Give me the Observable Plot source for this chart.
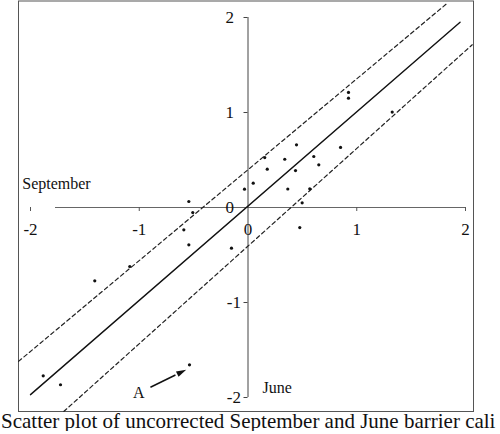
<!DOCTYPE html>
<html>
<head>
<meta charset="utf-8">
<script src="https://cdn.jsdelivr.net/npm/d3@7"></script>
<script src="https://cdn.jsdelivr.net/npm/@observablehq/plot@0.6"></script>
<style>
  html, body { margin: 0; padding: 0; background: white; overflow: hidden; }
  #chart svg { display: block; }
  #caption {
    font-family: "Liberation Serif", "Times New Roman", serif;
    font-size: 21px; line-height: 20px; margin-top: -3px;
    white-space: nowrap; width: 498px;
    padding-left: 1px; color: #111;
  }
</style>
</head>
<body>
<div id="chart"></div>
<div id="caption">Scatter plot of uncorrected September and June barrier cali</div>
<script>
// Scatter points: June (x) vs September (y)
const juneX = [-0.544, -0.508, -0.590, -0.544, -0.152, -0.032, 0.048, 0.446, 0.851, 0.154,
               0.338, 0.605, 0.651, 0.177, 0.437, 0.366, 0.568, 0.498, 0.476, 0.924,
               0.924, 1.326, -1.087, -1.409, -1.883, -1.724, -0.538];
const septY = [0.063, -0.053, -0.235, -0.393, -0.428, 0.193, 0.256, 0.660, 0.632, 0.526,
               0.508, 0.537, 0.449, 0.403, 0.389, 0.195, 0.197, 0.049, -0.211, 1.211,
               1.151, 1.005, -0.621, -0.772, -1.772, -1.866, -1.656];

// Fitted line and dashed bounds (end points)
const fitLine   = [[-2.0, -1.97], [1.95, 1.95]];
const upperBand = [[-2.11, -1.62], [1.832, 2.15]];
const lowerBand = [[-1.694, -2.147], [2.062, 1.713]];

// Axes
const xTickLabels = [-2, -1, 0, 1, 2];
const xTickMarks = [-2, -1, 1, 2];
const yTickLabels = [2, 1, 0, -1, -2];
const yTickMarks = [2, 1, -1, -2];
const xAxisExtent = [-1.77, 2];
const yAxisExtent = [-2, 2];

// Annotations
const annoText = ["September", "June", "A"];
const annoX = [-2.076, 0.133, -1.004];
const annoY = [0.253, -1.895, -1.953];
const annoAnchor = ["start", "start", "middle"];
const arrowFrom = [-0.897, -1.892];
const arrowTo = [-0.568, -1.708];

const points = juneX.map((x, i) => ({x, y: septY[i]}));
const annos = annoText.map((t, i) => ({t, x: annoX[i], y: annoY[i], a: annoAnchor[i]}));

const W = 500, H = 414, ML = 30, MR = 35, MT = 17, MB = 17;
const kx = (W - ML - MR) / 4, ky = (H - MT - MB) / 4;
const adx = (arrowTo[0] - arrowFrom[0]) * kx, ady = -(arrowTo[1] - arrowFrom[1]) * ky;
const alen = Math.hypot(adx, ady);
const headRot = Math.atan2(adx, -ady) * 180 / Math.PI;
const headFrac = 6 / alen;
const head = [{
  x: arrowTo[0] - headFrac * (arrowTo[0] - arrowFrom[0]),
  y: arrowTo[1] - headFrac * (arrowTo[1] - arrowFrom[1])
}];
const shaftEnd = [{
  x1: arrowFrom[0], y1: arrowFrom[1],
  x2: arrowTo[0] - 2 * headFrac * (arrowTo[0] - arrowFrom[0]),
  y2: arrowTo[1] - 2 * headFrac * (arrowTo[1] - arrowFrom[1])
}];
const arrowHead = {
  draw(context, size) {
    const s = Math.sqrt(size);
    context.moveTo(0, -0.6 * s);
    context.lineTo(-0.3 * s, 0.4 * s);
    context.lineTo(0.3 * s, 0.4 * s);
    context.closePath();
  }
};

const toRows = (seg) => seg.map(([x, y]) => ({x, y}));

const chart = Plot.plot({
  width: W, height: H,
  marginLeft: ML, marginRight: MR, marginTop: MT, marginBottom: MB,
  x: {domain: [-2, 2], axis: null},
  y: {domain: [-2, 2], axis: null},
  style: {fontFamily: "'Liberation Serif', 'Times New Roman', serif", background: "white", color: "#111", overflow: "visible"},
  marks: [
    Plot.frame({stroke: "#555", strokeWidth: 1, insetLeft: -12, insetRight: -8, insetTop: -16.5, insetBottom: -14}),
    // x axis
    Plot.ruleY([0], {x1: xAxisExtent[0], x2: xAxisExtent[1], stroke: "#666", strokeWidth: 1}),
    Plot.ruleX(xTickMarks, {x: d => d, y1: () => 0, y2: () => 0, insetBottom: -4, stroke: "#555"}),
    Plot.text(xTickLabels, {x: d => d, y: () => 0, dy: 22, text: d => String(d), fontSize: 17, fill: "#111"}),
    // y axis
    Plot.ruleX([0], {y1: yAxisExtent[0], y2: yAxisExtent[1], stroke: "#444", strokeWidth: 1}),
    Plot.ruleY(yTickMarks, {y: d => d, x1: () => 0, x2: () => 0, insetLeft: -4, stroke: "#444"}),
    Plot.text(yTickLabels.filter(d => d >= 0), {x: () => 0, y: d => d, dx: -14, text: d => String(d), textAnchor: "end", fontSize: 17, fill: "#111"}),
    Plot.text(yTickLabels.filter(d => d < 0), {x: () => 0, y: d => d, dx: -7, text: d => String(d), textAnchor: "end", fontSize: 17, fill: "#111"}),
    // lines
    Plot.line(toRows(fitLine), {x: "x", y: "y", stroke: "#111", strokeWidth: 1.4}),
    Plot.line(toRows(upperBand), {x: "x", y: "y", stroke: "#222", strokeWidth: 1.2, strokeDasharray: "4,3"}),
    Plot.line(toRows(lowerBand), {x: "x", y: "y", stroke: "#222", strokeWidth: 1.2, strokeDasharray: "4,3"}),
    // points
    Plot.dot(points, {x: "x", y: "y", r: 1.6, fill: "#111", stroke: null}),
    // annotations
    Plot.text(annos.filter(d => d.a === "start"), {x: "x", y: "y", text: "t", textAnchor: "start", fontSize: 16, fill: "#111"}),
    Plot.text(annos.filter(d => d.a === "middle"), {x: "x", y: "y", text: "t", textAnchor: "middle", fontSize: 16, fill: "#111"}),
    Plot.link(shaftEnd, {x1: "x1", y1: "y1", x2: "x2", y2: "y2", stroke: "#111", strokeWidth: 1.5}),
    Plot.dot(head, {x: "x", y: "y", r: 5.6, symbol: arrowHead, rotate: headRot, fill: "#111", stroke: null})
  ]
});
document.getElementById("chart").append(chart);
</script>
</body>
</html>
